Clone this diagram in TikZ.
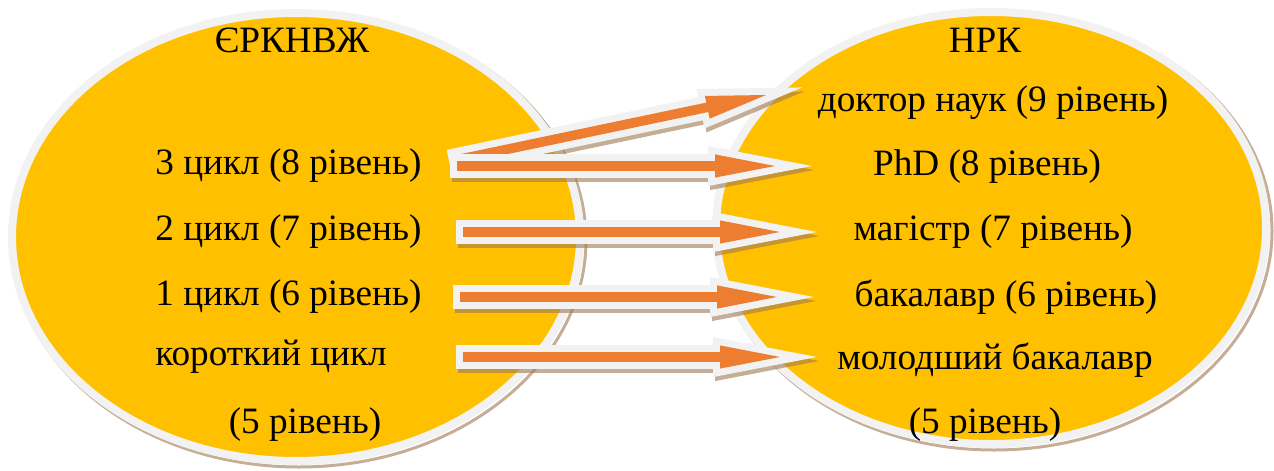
\documentclass[tikz,border=0pt]{standalone}
\usepackage{fontspec}
\setmainfont{Liberation Serif}
\usepackage{tikz}
\usetikzlibrary{calc}

\definecolor{ellfill}{HTML}{FFC000}
\definecolor{rimgrey}{HTML}{F2F2F2}
\definecolor{arrorange}{HTML}{ED7D31}
\definecolor{shadebrown}{HTML}{A07850}

\tikzset{
  txt/.style={font=\fontsize{18.6}{22}\selectfont, inner sep=0pt},
  cloud/.style={fill=ellfill, draw=rimgrey, line width=4pt},
  cloudshade/.style={draw=shadebrown, line width=1.5pt, opacity=.6},
  blockarrow/.style={fill=arrorange, line join=miter,
    preaction={draw=shadebrown, opacity=.6, line width=7pt, line join=miter,
      transform canvas={shift={(1pt,-2pt)}}},
    preaction={draw=rimgrey, line width=7pt, line join=miter}}
}

\newcommand{\blockarr}[2]{%
  \coordinate (hb) at ($(#2)!30pt!(#1)$);
  \path[blockarrow] ($(#1)!2.4pt!90:(#2)$) -- ($(hb)!2.4pt!90:(#2)$)
    -- ($(hb)!5.8pt!90:(#2)$) -- (#2) -- ($(hb)!5.8pt!-90:(#2)$)
    -- ($(hb)!2.4pt!-90:(#2)$) -- ($(#1)!2.4pt!-90:(#2)$) -- cycle;}

\begin{document}
\begin{tikzpicture}[x=0.5pt, y=-0.5pt]
  \useasboundingbox (0,0) rectangle (1274,471);

  \draw[cloudshade] (299,240) ellipse [x radius=287, y radius=227];
  \draw[cloud] (296,237) ellipse [x radius=284, y radius=224];

  \draw[cloudshade] (994,231) ellipse [x radius=278, y radius=219];
  \draw[cloud] (991,228) ellipse [x radius=275, y radius=216];

  \node[txt] (erk) at (292,40) {ЄРКНВЖ};
  \node[txt, anchor=west] (c3) at (155,166) {3 цикл (8 рівень)};
  \node[txt, anchor=west] (c2) at (155,232) {2 цикл (7 рівень)};
  \node[txt, anchor=west] (c1) at (155,297) {1 цикл (6 рівень)};
  \node[txt, anchor=west] (cs) at (155,357) {короткий цикл};
  \node[txt] (cs5) at (305,425) {(5 рівень)};

  \node[txt] (nrk) at (985,40) {НРК};
  \node[txt] (dn) at (993,103) {доктор наук (9 рівень)};
  \node[txt] (phd) at (987,167) {PhD (8 рівень)};
  \node[txt] (mag) at (993,232) {магістр (7 рівень)};
  \node[txt] (bak) at (1006,297) {бакалавр (6 рівень)};
  \node[txt] (mb) at (995,360) {молодший бакалавр};
  \node[txt] (mb5) at (985,425) {(5 рівень)};

  \coordinate (s3a) at (456,160);
  \coordinate (s3b) at (457,166);
  \coordinate (s2) at (463,232);
  \coordinate (s1) at (460,297);
  \coordinate (ss) at (463,357);
  \coordinate (e9) at (766,95);
  \coordinate (e8) at (775,166);
  \coordinate (e7) at (780,232);
  \coordinate (e6) at (777,297);
  \coordinate (e5) at (780,357);

  \blockarr{s3a}{e9}
  \blockarr{s3b}{e8}
  \blockarr{s2}{e7}
  \blockarr{s1}{e6}
  \blockarr{ss}{e5}
\end{tikzpicture}
\end{document}
